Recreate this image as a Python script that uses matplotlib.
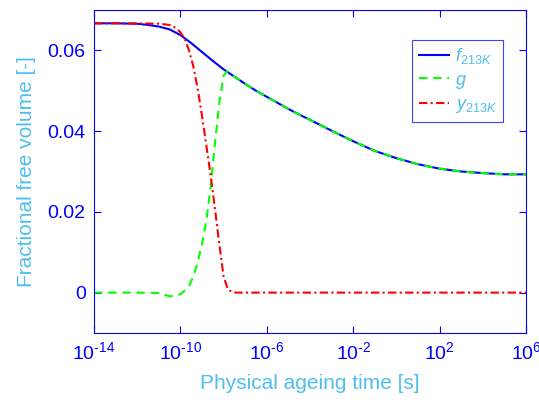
import numpy as np
import matplotlib
matplotlib.use('Agg')
import matplotlib.pyplot as plt

# log10 of ageing time [s] and fractional free volume values
logt_f = [-14, -13, -12, -11.5, -11, -10.5, -10, -9.5, -9, -8.5, -8, -7.5, -7, -6.5,
          -6, -5.5, -5, -4.5, -4, -3, -2.5, -2, -1, 0, 1, 2, 3, 4, 5, 6]
f_213K = [0.0667, 0.0667, 0.0666, 0.0663, 0.0659, 0.0652, 0.0638, 0.0618, 0.0596, 0.0574,
          0.0553, 0.0535, 0.0517, 0.0500, 0.0485, 0.0470, 0.0455, 0.0441, 0.0428, 0.0401,
          0.0388, 0.0375, 0.0351, 0.0333, 0.0318, 0.0307, 0.0300, 0.0296, 0.0293, 0.0293]

logt_g = [-14, -13, -12, -11, -10.5, -10.2, -10, -9.8, -9.6, -9.4, -9.2, -9.0, -8.8, -8.6,
          -8.4, -8.2, -8.0, -7.85, -7.5, -7, -6.5, -6, -5.5, -5, -4.5, -4, -3, -2.5, -2,
          -1, 0, 1, 2, 3, 4, 5, 6]
g = [0.0, 0.0, 0.0, -0.0001, -0.0009, -0.0008, -0.0004, 0.0005, 0.0017, 0.0040, 0.0075,
     0.0120, 0.0178, 0.0262, 0.0370, 0.0470, 0.0538, 0.0548, 0.0535, 0.0517, 0.0500,
     0.0485, 0.0470, 0.0455, 0.0441, 0.0428, 0.0401, 0.0388, 0.0375, 0.0351, 0.0333,
     0.0318, 0.0307, 0.0300, 0.0296, 0.0293, 0.0293]

logt_y = [-14, -12, -11, -10.5, -10.2, -10, -9.8, -9.6, -9.4, -9.2, -9.0, -8.8, -8.6, -8.4,
          -8.2, -8.0, -7.8, -7.6, -7.4, -6, -2, 2, 6]
y_213K = [0.0667, 0.0667, 0.0666, 0.0663, 0.0655, 0.0645, 0.0628, 0.0600, 0.0560, 0.0505,
          0.0438, 0.0365, 0.0290, 0.0208, 0.0120, 0.0040, 0.0008, 0.0001, 0.0, 0.0, 0.0,
          0.0, 0.0]

xtick_exp = [-14, -10, -6, -2, 2, 6]
yticks = [0, 0.02, 0.04, 0.06]

plt.rcParams['font.family'] = ['Liberation Sans', 'DejaVu Sans']
plt.rcParams['mathtext.fontset'] = 'custom'
plt.rcParams['mathtext.rm'] = 'Liberation Sans'
plt.rcParams['mathtext.it'] = 'Liberation Sans:italic'
plt.rcParams['mathtext.sf'] = 'Liberation Sans'

label_col = '#4DBEEE'
axis_col = 'blue'

fig = plt.figure(figsize=(5.39, 4.05), dpi=100)
ax = fig.add_axes([0.1744, 0.1778, 0.8015, 0.7975])

ax.plot(10.0 ** np.array(logt_f), f_213K, color='blue', lw=1.5, label=r'$\mathit{f_{213K}}$')
ax.plot(10.0 ** np.array(logt_g), g, color='#00ff00', lw=1.5, ls=(0, (4, 2.8)), label=r'$\mathit{g}$')
ax.plot(10.0 ** np.array(logt_y), y_213K, color='red', lw=1.5, ls=(0, (4, 1.6, 1, 1.6)), label=r'$\mathit{y_{213K}}$')

ax.set_xscale('log')
ax.set_xlim(1e-14, 1e6)
ax.set_ylim(-0.01, 0.07)
ax.set_xticks([10.0 ** e for e in xtick_exp])
ax.set_xticklabels([r'$10^{\text{%d}}$' % e for e in xtick_exp])
ax.minorticks_off()
ax.set_yticks(yticks)
ax.set_yticklabels(['0', '0.02', '0.04', '0.06'])

ax.tick_params(direction='in', length=5, width=0.8, colors=axis_col, labelsize=14,
               top=True, right=True, pad=6)
for sp in ax.spines.values():
    sp.set_color(axis_col)
    sp.set_linewidth(0.8)

ax.set_xlabel('Physical ageing time [s]', color=label_col, fontsize=15, labelpad=8)
ax.set_ylabel('Fractional free volume [-]', color=label_col, fontsize=15, labelpad=8)

leg = ax.legend(loc='upper right', bbox_to_anchor=(0.947, 0.907), fontsize=13,
                fancybox=False, framealpha=1, edgecolor='#4040ff', handlelength=1.7,
                borderpad=0.35, labelspacing=0.3, handletextpad=0.3, borderaxespad=0)
leg.get_frame().set_linewidth(0.8)
for t in leg.get_texts():
    t.set_color(label_col)

fig.savefig('out.png', dpi=100)
